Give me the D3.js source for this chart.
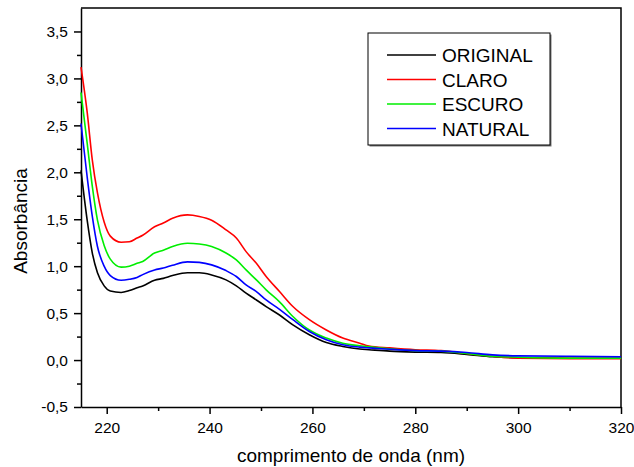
<!DOCTYPE html>
<html>
<head>
<meta charset="utf-8">
<script src="https://cdn.jsdelivr.net/npm/d3@7"></script>
<style>
    body { margin: 0; background: #fff; }
    svg { display: block; font-family: "Liberation Sans", Arial, sans-serif; }
</style>
</head>
<body>
<svg id="chart" width="634" height="467"></svg>
<script>

/* wavelengths (nm) shared by all four spectra */
var wavelength = [215, 216.2, 217.2, 218.2, 219.5, 220.7, 222.8, 224.4, 225.9, 227, 229.3, 231, 232.8, 235.7, 238, 240.4,
    243.2, 245.2, 247.1, 249.1, 251, 253.6, 256.2, 259.4, 262.7, 265.9, 269.2, 271, 275, 280, 285, 290, 295, 300, 310, 320];

var original = [2.02, 1.49, 1.14, 0.93, 0.79, 0.735, 0.72, 0.74, 0.77, 0.79, 0.85, 0.87, 0.90, 0.93, 0.93, 0.907,
    0.854, 0.79, 0.713, 0.64, 0.57, 0.48, 0.375, 0.27, 0.187, 0.145, 0.117, 0.11, 0.095, 0.085, 0.08, 0.06, 0.035, 0.025, 0.02, 0.02];
var claro = [3.12, 2.64, 2.13, 1.78, 1.47, 1.32, 1.255, 1.26, 1.30, 1.33, 1.42, 1.46, 1.51, 1.546, 1.53, 1.49,
    1.386, 1.30, 1.155, 1.03, 0.89, 0.73, 0.57, 0.43, 0.32, 0.234, 0.18, 0.15, 0.13, 0.11, 0.10, 0.07, 0.04, 0.02, 0.015, 0.015];
var escuro = [2.85, 2.31, 1.85, 1.49, 1.22, 1.075, 0.99, 1.0, 1.03, 1.05, 1.14, 1.17, 1.21, 1.245, 1.237, 1.21,
    1.14, 1.067, 0.96, 0.854, 0.748, 0.62, 0.464, 0.32, 0.234, 0.18, 0.152, 0.14, 0.12, 0.10, 0.095, 0.07, 0.04, 0.03, 0.02, 0.02];
var natural = [2.52, 1.95, 1.53, 1.21, 1.0, 0.90, 0.85, 0.86, 0.88, 0.91, 0.96, 0.98, 1.01, 1.046, 1.04, 1.014,
    0.953, 0.89, 0.80, 0.73, 0.64, 0.54, 0.43, 0.304, 0.216, 0.163, 0.138, 0.13, 0.115, 0.10, 0.095, 0.08, 0.055, 0.045, 0.04, 0.035];

var seriesNames = ["ORIGINAL", "CLARO", "ESCURO", "NATURAL"];
var seriesValues = [original, claro, escuro, natural];
var seriesColors = ["#000000", "#ff0000", "#00ee00", "#0000ff"];

var xTicks = [220, 240, 260, 280, 300, 320];
var yTicks = [-0.5, 0, 0.5, 1, 1.5, 2, 2.5, 3, 3.5];

var svg = d3.select("svg"),
    width = +svg.attr("width"),
    height = +svg.attr("height"),
    margin = {top: 8, right: 13, bottom: 60, left: 81};

var x = d3.scaleLinear().domain([215, 320]).range([margin.left, width - margin.right]);
var y = d3.scaleLinear().domain([-0.5, 3.75]).range([height - margin.bottom, margin.top]);

var comma = function (d) { return d3.format(".1f")(d).replace(".", ",").replace("−", "-"); };

/* minor ticks first, then major axes on top */
var xMinor = d3.range(230, 320, 20);
var yMinor = d3.range(-0.25, 3.75, 0.5);

var g = svg.append("g");

g.append("g")
    .attr("transform", "translate(0," + (height - margin.bottom) + ")")
    .call(d3.axisBottom(x).tickValues(xMinor).tickSize(4).tickFormat(""))
    .call(function (a) { a.select(".domain").remove(); });

g.append("g")
    .attr("transform", "translate(" + margin.left + ",0)")
    .call(d3.axisLeft(y).tickValues(yMinor).tickSize(4).tickFormat(""))
    .call(function (a) { a.select(".domain").remove(); });

var xAxis = g.append("g")
    .attr("transform", "translate(0," + (height - margin.bottom) + ")")
    .call(d3.axisBottom(x).tickValues(xTicks).tickSize(7).tickSizeOuter(0).tickPadding(8));

var yAxis = g.append("g")
    .attr("transform", "translate(" + margin.left + ",0)")
    .call(d3.axisLeft(y).tickValues(yTicks).tickSize(7).tickSizeOuter(0).tickPadding(6).tickFormat(comma));

svg.selectAll(".tick line").attr("stroke", "#000").attr("stroke-width", 1.5);
svg.selectAll(".domain").attr("stroke", "#000").attr("stroke-width", 1.5);
svg.selectAll(".tick text")
    .attr("fill", "#000")
    .style("font-size", "15.5px")
    .style("font-family", "'Liberation Sans', Arial, sans-serif");

/* frame: top and right borders */
g.append("path")
    .attr("d", "M" + margin.left + "," + margin.top + "H" + (width - margin.right) + "V" + (height - margin.bottom))
    .attr("fill", "none")
    .attr("stroke", "#000")
    .attr("stroke-width", 1.5);

/* spectra */
var line = d3.line()
    .x(function (d) { return x(d[0]); })
    .y(function (d) { return y(d[1]); })
    .curve(d3.curveMonotoneX);

seriesValues.forEach(function (vals, i) {
    var pts = wavelength.map(function (w, j) { return [w, vals[j]]; });
    g.append("path")
        .datum(pts)
        .attr("fill", "none")
        .attr("stroke", seriesColors[i])
        .attr("stroke-width", 1.6)
        .attr("d", line);
});

/* axis titles */
svg.append("text")
    .attr("x", (margin.left + width - margin.right) / 2)
    .attr("y", 462)
    .attr("text-anchor", "middle")
    .style("font-size", "19px")
    .text("comprimento de onda (nm)");

svg.append("text")
    .attr("transform", "translate(27," + 221 + ") rotate(-90)")
    .attr("text-anchor", "middle")
    .style("font-size", "19px")
    .text("Absorbância");

/* legend */
var legend = svg.append("g").attr("transform", "translate(368,33)");

legend.append("rect")
    .attr("x", 1.5).attr("y", 1.5)
    .attr("width", 182).attr("height", 112)
    .attr("fill", "#777");

legend.append("rect")
    .attr("width", 182).attr("height", 112)
    .attr("fill", "#fff")
    .attr("stroke", "#000")
    .attr("stroke-width", 1);

seriesNames.forEach(function (name, i) {
    var ly = 22 + i * 24.5;
    legend.append("line")
        .attr("x1", 19).attr("x2", 68)
        .attr("y1", ly).attr("y2", ly)
        .attr("stroke", seriesColors[i])
        .attr("stroke-width", 1.6);
    legend.append("text")
        .attr("x", 74)
        .attr("y", ly + 7)
        .style("font-size", "19px")
        .text(name);
});

</script>
</body>
</html>
